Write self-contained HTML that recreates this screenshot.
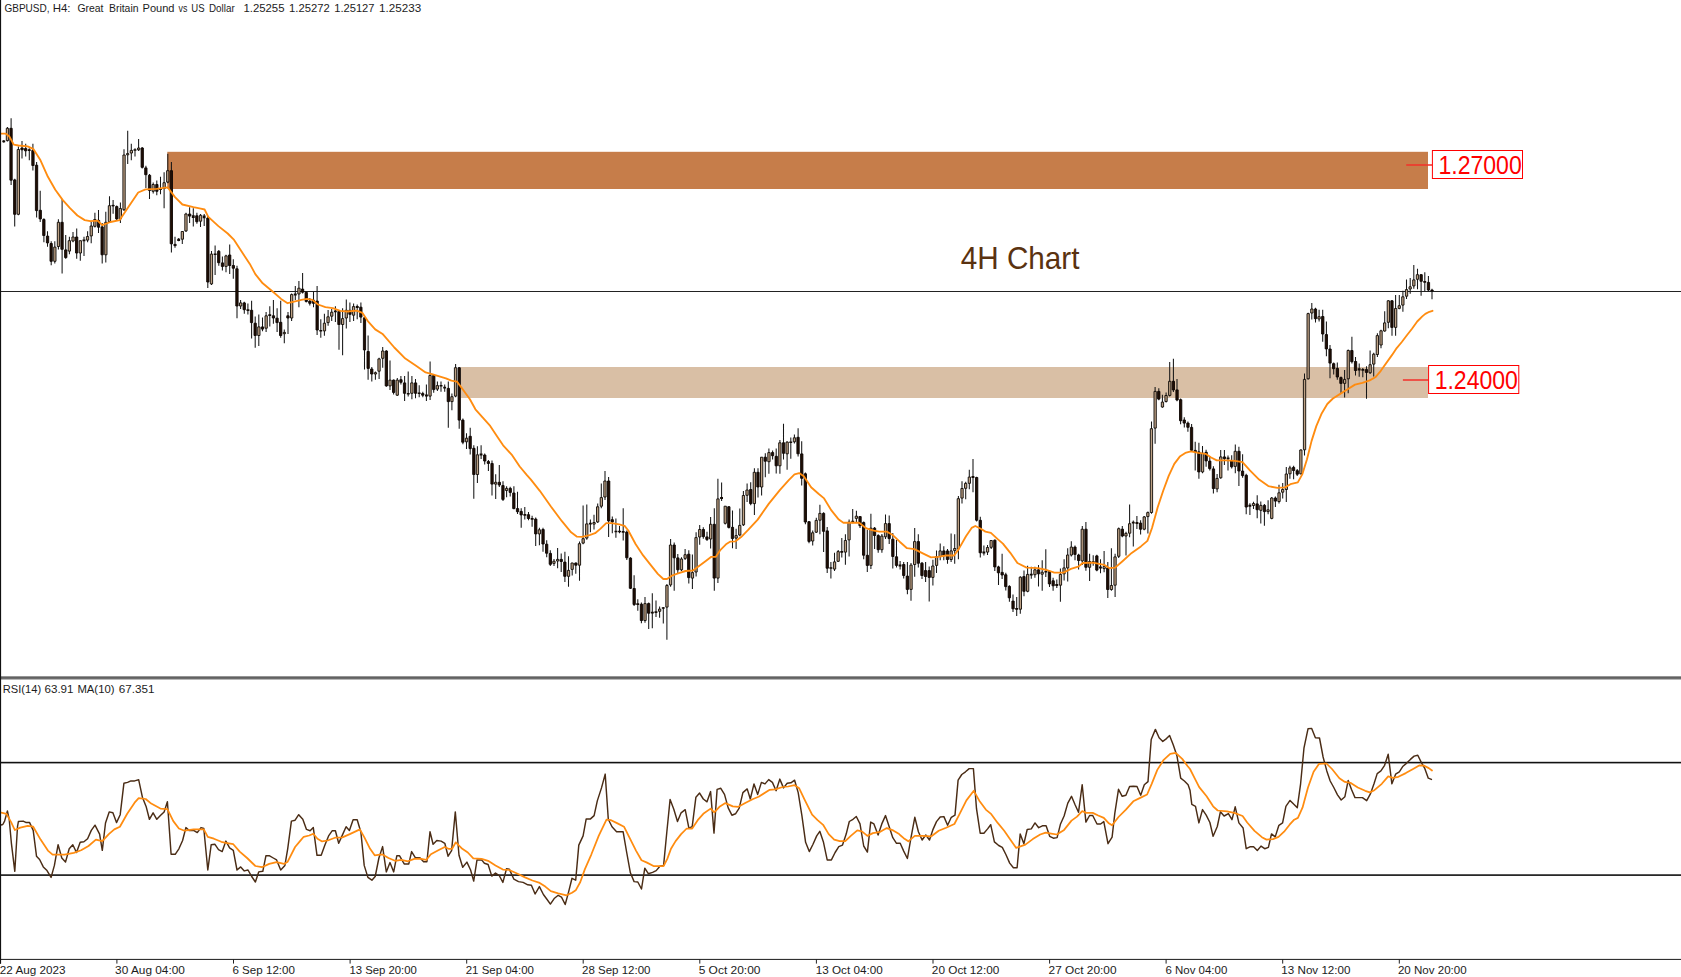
<!DOCTYPE html>
<html lang="en"><head><meta charset="utf-8"><title>GBPUSD H4 Chart</title>
<style>html,body{margin:0;padding:0;background:#fff;overflow:hidden}svg{display:block}text{font-family:"Liberation Sans",Arial,sans-serif}</style></head><body>
<svg width="1681" height="977" viewBox="0 0 1681 977">
<rect width="1681" height="977" fill="#fff"/>
<rect x="167.3" y="151.8" width="1260.7" height="37.2" fill="#c67d4a"/>
<rect x="460.6" y="367" width="967.4" height="31" fill="#d9bfa5"/>
<rect x="0" y="291" width="1681" height="1" fill="#222"/>
<path d="M3.8 140V142.8M7.4 127.1V141.5M11.1 118.3V185.1M14.7 178.7V226.6M18.4 146.4V215.2M22 140.9V158.4M25.7 143.7V156.6M29.3 148.3V160.3M32.9 143.7V170.4M36.6 162.1V217.4M40.2 190.7V222M43.9 218.3V242.2M47.5 231.2V246.8M51.2 241.3V265.3M54.8 241.3V263.4M58.4 219.2V249.6M62.1 198.9V273.6M65.7 234.9V258.8M69.4 236.7V254.2M73 232.1V242.2M76.7 228.4V258.8M80.3 240.4V260.7M84 236.7V256.1M87.6 231.2V242.2M91.2 222V243.2M94.9 212.8V227.5M98.5 210V233M102.2 222.9V263.4M105.8 211.8V262.5M109.5 196.2V222.9M113.1 199.9V213.7M116.7 205.4V220.1M120.4 202.6V222.9M124 149.2V210.9M127.7 130.8V163.9M131.3 143.7V160.3M135 148.3V156.6M138.6 139.1V151.1M142.2 147V168.6M145.9 165.8V187.9M149.5 174.1V198.9M153.2 182.4V193.4M156.8 180.5V195.3M160.5 176.8V194.3M164.1 172.2V208.2M167.8 153.8V183.3M171.4 162.1V252.4M175 236.7V247.8M178.7 238V241.3M182.3 231.2V244.1M186 212.8V232.1M189.6 207.2V222.9M193.3 208.2V226.6M196.9 212.8V223.8M200.5 214.1V227M204.2 214.1V226.1M207.8 216V287.9M211.5 251V285.1M215.1 245.5V275M218.8 250.1V265.8M222.4 256.5V270.4M226 254.7V272.2M229.7 244.5V274.1M233.3 259.3V278.7M237 265.8V318.3M240.6 299.9V309.1M244.3 301.7V313.7M247.9 303.6V314.6M251.6 300.8V338.6M255.2 316.5V347.8M258.8 314.6V346M262.5 317.4V331.2M266.1 311.9V332.1M269.8 306.3V326.6M273.4 299.9V323.8M277.1 308.2V332.1M280.7 300.8V337.7M284.3 329.4V343.2M288 311.9V334M291.6 293.4V321.1M295.3 286V299.9M298.9 281.1V307.2M302.6 273.1V293.4M306.2 291.6V302.6M309.8 298V305.4M313.5 291.6V307.2M317.1 286V334.9M320.8 319.2V337.7M324.4 313.7V335.8M328.1 310V325.7M331.7 309.1V321.1M335.4 306.3V322M339 310V349.7M342.6 308.2V355.2M346.3 299.5V328.5M349.9 302.6V322M353.6 303.6V321.1M357.2 304.5V319.2M360.9 302.6V322.9M364.5 316.2V369.6M368.1 335.5V379.8M371.8 366.9V381.6M375.4 371.5V379.8M379.1 357.7V378.9M382.7 347V367.8M386.4 350.3V386.8M390 360.4V389.9M393.6 379.4V394.5M397.3 377.9V396M400.9 376.1V384.4M404.6 376.1V401M408.2 371.5V396.4M411.9 376.1V399.2M415.5 378.9V398.2M419.2 385.3V397.3M422.8 391.8V397.3M426.4 384.4V401M430.1 361.4V400.1M433.7 374.8V392.7M437.4 381.6V390.9M441 381.6V391.8M444.7 384.4V391.8M448.3 381.6V427.7M451.9 393.6V410.2M455.6 364.1V397.3M459.2 366.9V428.7M462.9 418.5V444.3M466.5 433.3V448.9M470.2 427.7V454.5M473.8 445.3V498.7M477.4 446.2V483.1M481.1 445.3V459.1M484.7 453.6V464.6M488.4 460V471.1M492 460.4V495.4M495.7 474.2V499.1M499.3 465V487.1M503 481.2V501M506.6 486.2V497.3M510.2 486.8V496.4M513.9 486.2V509.3M517.5 491.7V513.9M521.2 508.3V527.7M524.8 507V519.4M528.5 512V520.3M532.1 515.7V526.8M535.7 517.6V546.1M539.4 527.7V545.2M543 527.7V551.7M546.7 540.2V557.2M550.3 550.2V566.1M554 559.1V566.1M557.6 548V568.3M561.2 553.5V572M564.9 551.7V582.1M568.5 556.3V586.7M572.2 562.7V575.6M575.8 562.4V573.8M579.5 541.5V580.8M583.1 505.6V544.3M586.8 504.6V539.7M590.4 519.4V532.3M594 514.8V529.5M597.7 503.4V523.1M601.3 483.4V508.3M605 470.9V500M608.6 477V536.9M612.3 516.6V533.2M615.9 518.5V537.8M619.5 525.9V533.2M623.2 508.3V540.6M626.8 530.5V560M630.5 557.2V588.9M634.1 575.3V606.1M637.8 599.3V610.7M641.4 602.4V623.2M645 596.9V622.7M648.7 602.4V629.1M652.3 593.2V628.2M656 600.5V617.1M659.6 606.6V617.7M663.3 607V623.6M666.9 583.9V639.8M670.6 539.1V586.7M674.2 542.5V590.8M677.8 553.9V572.9M681.5 557.2V571M685.1 548.9V560M688.8 550.2V583.4M692.4 554.4V588.9M696.1 532.3V576.6M699.7 524.9V544.7M703.3 527.3V538.8M707 531.8V541M710.6 517V548.4M714.3 508.3V590.8M717.9 478.8V583M721.6 482.5V501M725.2 505.9V524.4M728.9 505.9V528.6M732.5 510.4V548.2M736.1 528.8V549.1M739.8 508.5V536.2M743.4 491V526M747.1 483.6V502.1M750.7 482.3V505.2M754.4 468.3V515M758 468.3V497.5M761.6 456.9V495.6M765.3 453.2V477.2M768.9 448.6V473.8M772.6 450.4V459.6M776.2 448.6V473.5M779.9 439.9V473.8M783.5 423.7V459.6M787.1 441.2V469.8M790.8 437.5V458.7M794.4 434.4V443.6M798.1 428.3V456.5M801.7 441.2V485.5M805.4 472.6V524.2M809 521.1V543.2M812.7 530.6V545.4M816.3 517.7V532.9M819.9 504.8V534.3M823.6 512.2V551.9M827.2 527V573.1M830.9 562V578.6M834.5 552.8V570.9M838.2 550V562M841.8 538V557.4M845.4 534.3V564.8M849.1 519.6V556.5M852.7 508.9V523.3M856.4 510.7V522.3M860 515.9V527.9M863.7 521.4V559.2M867.3 529.7V572.1M870.9 513.7V569M874.6 527V549.1M878.2 534.3V552.8M881.9 534V552.8M885.5 514.4V538.9M889.2 515.5V543.9M892.8 532.9V568.5M896.5 539.9V567.5M900.1 561.1V569.4M903.7 562V578.6M907.4 562V594.3M911 562.9V600.7M914.7 527.9V576.8M918.3 534.3V567.5M922 562V579M925.6 562V581.9M929.2 566.6V601.6M932.9 559.8V585.6M936.5 550.6V573.1M940.2 543.6V560.2M943.8 546.3V560.2M947.5 549.1V563.8M951.1 533.4V562M954.7 534.3V563.8M958.4 496V559.2M962 481.2V503.4M965.7 481.8V499.3M969.3 469.8V489.2M973 459.1V492.3M976.6 476.8V521.4M980.3 516.8V557.4M983.9 545.4V555.5M987.5 545V555M991.2 539.9V549.1M994.8 539.5V570.9M998.5 565.7V585M1002.1 553.7V579M1005.8 572.7V590.6M1009.4 585.2V601.8M1013 594.4V611.9M1016.7 597.1V616.1M1020.3 576.3V613.7M1024 570.4V596.2M1027.6 565.8V592.2M1031.3 566.7V578.7M1034.9 566.7V577.8M1038.5 564.9V586.6M1042.2 560.3V590.7M1045.8 549.2V576.9M1049.5 570.4V587M1053.1 577.8V590.7M1056.8 579.6V587.9M1060.4 568.6V601.8M1064.1 559.3V580.5M1067.7 548.3V581.5M1071.3 541.3V556.6M1075 545.5V560.3M1078.6 553.8V569.5M1082.3 526.1V564.9M1085.9 522.1V570.8M1089.6 553.8V581.1M1093.2 555.3V565.8M1096.8 554.7V571.3M1100.5 559.3V573.2M1104.1 551V572.2M1107.8 562.1V598.1M1111.4 548.3V590.7M1115.1 553.8V597.1M1118.7 527.6V557.9M1122.3 526.1V537.2M1126 531.7V555.6M1129.6 504.4V537.2M1133.3 520.6V546.4M1136.9 516V528.9M1140.6 520.2V534.4M1144.2 516V530.2M1147.9 511.4V533.5M1151.5 421.5V513.7M1155.1 387V443.7M1158.8 388.3V400.3M1162.4 394.8V407.7M1166.1 392.6V402.5M1169.7 362V396.6M1173.4 358.8V392M1177 379.1V401.2M1180.6 398.5V424.3M1184.3 417.3V427.6M1187.9 421.5V431.7M1191.6 423.9V451M1195.2 441.8V470.4M1198.9 442.7V478.7M1202.5 446.1V473.2M1206.1 449.7V466.7M1209.8 456.6V470.4M1213.4 466.3V493.5M1217.1 474.1V492.2M1220.7 450.1V478.7M1224.4 450.1V464.9M1228 455.6V470.4M1231.7 455.3V468.6M1235.3 444.6V473.2M1238.9 446.8V486.1M1242.6 454.2V477.8M1246.2 473.7V514.3M1249.9 503.2V515M1253.5 501.8V509.1M1257.2 495.3V518.3M1260.8 501.4V523.5M1264.4 504V525.7M1268.1 500.3V514.3M1271.7 497.1V519.3M1275.4 496.6V506.9M1279 484.8V503.6M1282.7 482.9V498.4M1286.3 467.1V502.1M1289.9 465.8V478.7M1293.6 465.8V479.3M1297.2 468.9V475.9M1300.9 449.2V474.5M1304.5 373.6V455.6M1308.2 312.8V379.5M1311.8 303.1V319.5M1315.5 307.7V322.6M1319.1 309.8V321.5M1322.7 309.8V341.8M1326.4 321.5V356.3M1330 345V378.2M1333.7 362.5V374.5M1337.3 362.5V379.7M1341 376.4V392.9M1344.6 369.9V397.6M1348.2 349.6V393.3M1351.9 336.7V363.4M1355.5 357V375.4M1359.2 363.4V376.7M1362.8 368.1V377.3M1366.5 366.2V398.8M1370.1 350.5V374.1M1373.7 352.7V376.4M1377.4 333.3V356.9M1381 329.7V348.3M1384.7 311.3V331.8M1388.3 300V328.2M1392 300V335.7M1395.6 295.1V335.7M1399.3 295.1V309.2M1402.9 290.8V311.8M1406.5 279.6V299M1410.2 278V293.7M1413.8 265V288.8M1417.5 268.8V289.3M1421.1 273.9V295.7M1424.8 272.2V291.3M1428.4 276V291.3M1432 288.8V299.2" stroke="#161616" stroke-width="1.05" fill="none"/>
<path d="M6.3 128.3H8.6V140.6H6.3ZM17.2 149.5H19.5V214.3H17.2ZM53.7 247.1H56V261.3H53.7ZM57.3 222.3H59.6V246.5H57.3ZM68.2 240.7H70.5V251.1H68.2ZM71.9 237H74.2V241H71.9ZM79.2 240.7H81.5V253H79.2ZM86.4 236.5H88.7V240.1H86.4ZM90.1 226H92.4V235.9H90.1ZM93.7 219.5H96V226.3H93.7ZM104.7 222.3H107V254.8H104.7ZM108.3 205.7H110.6V221.7H108.3ZM119.2 208.5H121.5V218.9H119.2ZM122.9 155H125.2V209.7H122.9ZM126.5 153.6H128.8V154.8H126.5ZM130.2 150.4H132.5V153H130.2ZM137.5 148H139.8V149.8H137.5ZM152 184.5H154.3V191.3H152ZM163 182.7H165.3V188.5H163ZM166.6 170.7H168.9V182.1H166.6ZM181.2 231.5H183.5V239.2H181.2ZM184.8 214H187.1V230.9H184.8ZM199.4 215.3H201.7V221.2H199.4ZM210.3 254.1H212.6V283.9H210.3ZM224.9 255.9H227.2V266.4H224.9ZM239.5 302.9H241.8V306H239.5ZM257.7 326.9H260V335.5H257.7ZM265 315.8H267.3V328.2H265ZM283.2 332.4H285.5V333.7H283.2ZM290.5 294.6H292.8V318H290.5ZM297.8 288.2H300.1V294H297.8ZM323.3 323.2H325.6V330.9H323.3ZM326.9 316.8H329.2V322.6H326.9ZM330.6 312.2H332.9V316.2H330.6ZM341.5 318.6H343.8V324.5H341.5ZM345.1 310.3H347.4V318H345.1ZM352.4 306.6H354.7V315.2H352.4ZM374.3 372.7H376.6V374H374.3ZM377.9 358.9H380.2V371.2H377.9ZM381.6 351H383.9V358.3H381.6ZM388.9 380.1H391.2V385.9H388.9ZM396.1 380.1H398.4V395.2H396.1ZM410.7 382.9H413V393.3H410.7ZM428.9 375.5H431.2V396.1H428.9ZM436.2 385.6H438.5V389.1H436.2ZM450.8 396.7H453.1V401.6H450.8ZM454.4 367.7H456.7V396.1H454.4ZM465.4 438.2H467.7V441.8H465.4ZM476.3 454.8H478.6V474.5H476.3ZM494.5 482.3H496.8V484.1H494.5ZM505.4 488.4H507.7V490.5H505.4ZM538.2 529.8H540.5V533.9H538.2ZM552.8 561.2H555.1V563.4H552.8ZM556.5 559.4H558.8V561H556.5ZM567.4 570.4H569.7V576.3H567.4ZM571 563H573.3V569.4H571ZM578.3 543.7H580.6V565.2H578.3ZM582 538.7H584.3V543.1H582ZM585.6 523.9H587.9V538.1H585.6ZM592.9 522.5H595.2V524.1H592.9ZM596.5 506.8H598.8V521.9H596.5ZM600.2 497.6H602.5V506.2H600.2ZM603.8 481H606.1V497H603.8ZM643.9 603.6H646.2V620.5H643.9ZM658.5 609.1H660.8V611.3H658.5ZM665.8 585.5H668.1V607.1H665.8ZM669.4 545H671.7V584.9H669.4ZM680.3 559H682.6V569.8H680.3ZM684 554.7H686.3V558.4H684ZM691.3 572.6H693.6V578.1H691.3ZM694.9 537.6H697.2V572H694.9ZM698.6 529.5H700.9V537H698.6ZM709.5 524.3H711.8V539H709.5ZM716.8 498.9H719.1V578.1H716.8ZM724.1 506.2H726.4V523.3H724.1ZM735 535.6H737.3V538.1H735ZM738.6 525.4H740.9V535H738.6ZM742.3 495.5H744.6V524.8H742.3ZM745.9 490H748.2V495.3H745.9ZM753.2 472.3H755.5V503.6H753.2ZM760.5 457.2H762.8V487H760.5ZM767.8 452.6H770.1V461.7H767.8ZM778.7 442.8H781V465.8H778.7ZM786 442.1H788.3V453.8H786ZM793.3 437.8H795.6V441.8H793.3ZM811.5 532.8H813.8V541H811.5ZM815.1 520.4H817.4V532.2H815.1ZM818.8 513.4H821.1V520.2H818.8ZM833.4 561.9H835.7V569.1H833.4ZM837 551.6H839.3V561.3H837ZM844.3 540.5H846.6V552.1H844.3ZM847.9 522.1H850.2V539.9H847.9ZM855.2 516.2H857.5V518.4H855.2ZM869.8 528.2H872.1V565.4H869.8ZM880.7 536.1H883V549.7H880.7ZM884.4 523.6H886.7V536.8H884.4ZM909.9 565.1H912.2V589.4H909.9ZM913.5 541.6H915.8V564.5H913.5ZM931.7 566H934V577.4H931.7ZM935.4 556.8H937.7V565.4H935.4ZM939 550.9H941.3V556.5H939ZM950 550.9H952.3V559.5H950ZM953.6 548.5H955.9V550.6H953.6ZM957.2 498.7H959.5V548.8H957.2ZM960.9 488.5H963.2V498.1H960.9ZM964.5 483.4H966.8V488.3H964.5ZM968.2 477.1H970.5V483.3H968.2ZM986.4 547.5H988.7V552.1H986.4ZM990 540.5H992.3V547.3H990ZM1019.2 577.2H1021.5V609.2H1019.2ZM1026.5 574.4H1028.8V591.3H1026.5ZM1033.8 569.8H1036.1V574.7H1033.8ZM1041 572.2H1043.3V574.2H1041ZM1059.3 574.4H1061.6V585.2H1059.3ZM1062.9 567.9H1065.2V573.8H1062.9ZM1066.5 555H1068.8V567.9H1066.5ZM1070.2 547.1H1072.5V555H1070.2ZM1081.1 529.2H1083.4V560.9H1081.1ZM1088.4 561.5H1090.7V567.3H1088.4ZM1103 566.6H1105.3V568.6H1103ZM1110.3 585.5H1112.6V589.5H1110.3ZM1113.9 556.9H1116.2V585.2H1113.9ZM1117.6 528.7H1119.9V556.3H1117.6ZM1124.8 533.4H1127.1V536H1124.8ZM1128.5 523.7H1130.8V533.2H1128.5ZM1143.1 516.9H1145.4V529.2H1143.1ZM1146.7 512.6H1149V516.6H1146.7ZM1150.3 428.7H1152.6V512.5H1150.3ZM1154 391.4H1156.3V428.1H1154ZM1161.3 402.1H1163.6V407H1161.3ZM1164.9 395.5H1167.2V401.5H1164.9ZM1168.6 381.3H1170.9V395.4H1168.6ZM1201.4 453.2H1203.7V471.9H1201.4ZM1215.9 478.4H1218.2V488.9H1215.9ZM1219.6 456.9H1221.9V477.8H1219.6ZM1234.1 451.3H1236.4V466.4H1234.1ZM1252.4 503.5H1254.7V505.5H1252.4ZM1259.7 505.4H1262V510.3H1259.7ZM1266.9 509.8H1269.2V511.6H1266.9ZM1270.6 498H1272.9V518.4H1270.6ZM1277.9 492.8H1280.2V501.5H1277.9ZM1281.5 489.5H1283.8V492.2H1281.5ZM1285.2 474H1287.5V489.5H1285.2ZM1288.8 467.9H1291.1V473.8H1288.8ZM1299.7 450H1302V473.8H1299.7ZM1303.4 379.4H1305.7V449.8H1303.4ZM1307 313.6H1309.3V378.8H1307ZM1310.7 309H1313V313H1310.7ZM1317.9 316.7H1320.2V319H1317.9ZM1343.5 379.4H1345.8V383.4H1343.5ZM1347.1 350.5H1349.4V378.8H1347.1ZM1369 364.7H1371.3V372.7H1369ZM1372.6 354.2H1374.9V364.1H1372.6ZM1376.2 335.6H1378.5V354.5H1376.2ZM1379.9 330.8H1382.2V345H1379.9ZM1383.5 322.9H1385.8V331H1383.5ZM1387.2 300.8H1389.5V322.3H1387.2ZM1394.5 308.5H1396.8V327.4H1394.5ZM1398.1 305.7H1400.4V308.4H1398.1ZM1401.7 296.8H1404V305.1H1401.7ZM1405.4 289.6H1407.7V296.2H1405.4ZM1409 286.8H1411.3V289H1409ZM1412.7 279.9H1415V285.9H1412.7ZM1416.3 274.7H1418.6V279.3H1416.3Z" fill="#bda185" stroke="#0f0a06" stroke-width="0.9"/>
<path d="M9.9 128.3H12.2V180.2H9.9ZM13.6 179.9H15.9V214.3H13.6ZM20.9 148H23.2V149.8H20.9ZM24.5 148.6H26.8V150.8H24.5ZM31.8 150.4H34.1V165.5H31.8ZM35.4 165.2H37.7V210.6H35.4ZM39.1 210.3H41.4V218.9H39.1ZM42.7 219.5H45V235.5H42.7ZM46.4 236.1H48.7V242.9H46.4ZM50 243.5H52.3V261.3H50ZM60.9 222.3H63.2V249.3H60.9ZM64.6 249.9H66.9V257.6H64.6ZM75.5 237H77.8V253H75.5ZM97.4 220.4H99.7V227.2H97.4ZM101 226.9H103.3V254.8H101ZM111.9 205.3H114.2V206H111.9ZM115.6 206.6H117.9V218.9H115.6ZM141.1 148H143.4V167.3H141.1ZM144.7 167.9H147V174.7H144.7ZM148.4 175.3H150.7V190.4H148.4ZM155.7 184.5H158V191.3H155.7ZM170.2 170.7H172.5V243.8H170.2ZM173.9 244.4H176.2V245.6H173.9ZM188.5 214H190.8V216.1H188.5ZM195.7 215.8H198V221.7H195.7ZM206.7 218.1H209V282H206.7ZM217.6 251.3H219.9V262.7H217.6ZM221.3 262.9H223.6V266.4H221.3ZM228.5 255H230.8V265.5H228.5ZM232.2 265.5H234.5V268.2H232.2ZM235.8 268.8H238.1V306H235.8ZM243.1 302.9H245.4V309.7H243.1ZM250.4 310.3H252.7V322.6H250.4ZM254 323.2H256.3V335.5H254ZM261.3 326.9H263.6V329.1H261.3ZM272.3 315.8H274.6V318H272.3ZM275.9 318.2H278.2V322.6H275.9ZM279.5 322.3H281.8V335.5H279.5ZM286.8 315.8H289.1V318H286.8ZM301.4 289.1H303.7V292.2H301.4ZM305.1 292.4H307.4V301.4H305.1ZM308.7 301.1H311V303.3H308.7ZM312.3 300.2H314.6V303.3H312.3ZM316 301.1H318.3V330H316ZM337.8 311.6H340.1V324.5H337.8ZM348.8 310.3H351.1V314.3H348.8ZM359.7 307.2H362V317.1H359.7ZM363.4 317.8H365.6V350H363.4ZM367 351.5H369.3V368.4H367ZM370.6 369H372.9V374H370.6ZM385.2 351H387.5V385.9H385.2ZM392.5 380.1H394.8V392.4H392.5ZM399.8 379.7H402.1V382.3H399.8ZM403.4 382.9H405.7V393.3H403.4ZM414.4 382.9H416.7V393.3H414.4ZM421.6 393.6H423.9V395.2H421.6ZM432.6 375.5H434.9V389.6H432.6ZM447.2 388.4H449.5V401.6H447.2ZM458.1 367.7H460.4V420.1H458.1ZM461.7 420.1H464V442.2H461.7ZM469 436.3H471.3V448.6H469ZM472.7 448.3H475V474.5H472.7ZM483.6 455H485.9V461H483.6ZM487.2 461.6H489.5V463.4H487.2ZM490.9 463.5H493.2V484.1H490.9ZM498.2 482.3H500.5V485H498.2ZM501.8 485.6H504.1V499.4H501.8ZM509.1 488.4H511.4V492.4H509.1ZM512.7 493H515V508.6H512.7ZM516.4 508.6H518.7V511.7H516.4ZM520 511.4H522.3V514.9H520ZM527.3 514.7H529.6V518.5H527.3ZM534.6 519.1H536.9V533.9H534.6ZM541.9 529.5H544.2V544H541.9ZM545.5 544.2H547.8V553.2H545.5ZM549.2 553.4H551.5V564.3H549.2ZM560.1 559.4H562.4V561.5H560.1ZM563.7 562.1H566V576.3H563.7ZM574.7 563H577V565.2H574.7ZM607.5 481H609.8V520.9H607.5ZM611.1 519.7H613.4V521.9H611.1ZM625.7 532.1H628V557.8H625.7ZM629.3 558.1H631.6V588.3H629.3ZM633 588.5H635.3V604.5H633ZM640.3 604.2H642.6V620.5H640.3ZM647.5 603.6H649.8V613.2H647.5ZM673 545H675.3V557.8H673ZM676.7 557.9H679V569.8H676.7ZM687.6 554.2H689.9V577.6H687.6ZM702.2 529.5H704.5V536.6H702.2ZM705.8 536.9H708.1V539.4H705.8ZM713.1 524.3H715.4V578.1H713.1ZM727.7 506.8H730V527.4H727.7ZM731.3 527.3H733.6V538.6H731.3ZM749.6 489.5H751.9V503.6H749.6ZM756.8 472.3H759.1V487H756.8ZM764.1 457.2H766.4V461.2H764.1ZM771.4 452.6H773.7V455.7H771.4ZM775.1 456.3H777.4V465.8H775.1ZM782.4 442.8H784.7V453.3H782.4ZM796.9 437.3H799.2V453.8H796.9ZM800.6 453.9H802.9V478.3H800.6ZM804.2 473.8H806.5V522H804.2ZM807.9 521.7H810.2V541.4H807.9ZM822.4 513.4H824.7V531.3H822.4ZM826.1 530.9H828.4V568.2H826.1ZM858.9 516.6H861.2V525.7H858.9ZM862.5 522.6H864.8V555.2H862.5ZM866.2 555.3H868.5V565.4H866.2ZM873.4 528.2H875.7V535.5H873.4ZM877.1 535.6H879.4V549.7H877.1ZM888 523.6H890.3V538.6H888ZM891.7 539.2H894V556.5H891.7ZM895.3 556.8H897.6V565.4H895.3ZM902.6 564.5H904.9V575.5H902.6ZM906.2 576.1H908.5V589.4H906.2ZM917.2 541.6H919.5V563.2H917.2ZM920.8 563.2H923.1V575.5H920.8ZM924.4 570.6H926.7V576.5H924.4ZM928.1 570.6H930.4V577.4H928.1ZM942.7 550.9H945V555.2H942.7ZM946.3 550.9H948.6V559.5H946.3ZM975.5 477.5H977.8V520.2H975.5ZM979.1 520.3H981.4V552.8H979.1ZM993.7 540.2H996V566.9H993.7ZM997.3 566.9H999.6V572.8H997.3ZM1001 572.4H1003.3V575H1001ZM1004.6 574.8H1006.9V586.6H1004.6ZM1008.2 586.4H1010.5V597.8H1008.2ZM1011.9 601.1H1014.2V608.8H1011.9ZM1022.8 576.6H1025.1V591.3H1022.8ZM1037.4 569.8H1039.7V573.8H1037.4ZM1048.3 571.6H1050.6V583.9H1048.3ZM1052 580.8H1054.3V585.8H1052ZM1073.8 547.1H1076.1V554.4H1073.8ZM1077.5 555H1079.8V560.5H1077.5ZM1084.8 529.2H1087.1V567.3H1084.8ZM1095.7 555.9H1098V570.1H1095.7ZM1106.6 567.9H1108.9V589.5H1106.6ZM1121.2 529.2H1123.5V536H1121.2ZM1139.4 523.1H1141.7V529.2H1139.4ZM1157.6 391.4H1159.9V399.1H1157.6ZM1172.2 381.3H1174.5V389.9H1172.2ZM1175.9 389.9H1178.2V400H1175.9ZM1179.5 399.7H1181.8V420.7H1179.5ZM1183.1 420H1185.4V423.1H1183.1ZM1186.8 423.1H1189.1V427.3H1186.8ZM1190.4 427.4H1192.7V450.2H1190.4ZM1194.1 450.4H1196.4V452H1194.1ZM1197.7 451.9H1200V471.9H1197.7ZM1205 452.3H1207.3V460.9H1205ZM1208.6 461.1H1210.9V468.6H1208.6ZM1212.3 468.9H1214.6V488.5H1212.3ZM1223.2 456.9H1225.5V458.7H1223.2ZM1230.5 461.1H1232.8V466.8H1230.5ZM1237.8 451.3H1240.1V471H1237.8ZM1241.4 471.1H1243.7V475.6H1241.4ZM1245.1 475.3H1247.4V507H1245.1ZM1256 503.9H1258.3V509.7H1256ZM1263.3 505.4H1265.6V511.6H1263.3ZM1274.2 498H1276.5V501.1H1274.2ZM1292.4 467.4H1294.7V470.5H1292.4ZM1296.1 470.7H1298.4V474.2H1296.1ZM1314.3 309H1316.6V318.7H1314.3ZM1321.6 316.5H1323.9V334H1321.6ZM1325.2 334.6H1327.5V348.9H1325.2ZM1328.9 349H1331.2V363.1H1328.9ZM1332.5 363.7H1334.8V368.7H1332.5ZM1336.2 368.4H1338.5V377H1336.2ZM1339.8 377.6H1342.1V383.4H1339.8ZM1350.7 350.5H1353V361.7H1350.7ZM1354.4 361.5H1356.7V370.5H1354.4ZM1365.3 369.6H1367.6V372.4H1365.3ZM1390.8 300.8H1393.1V327.4H1390.8ZM1420 274.7H1422.3V281.3H1420ZM1427.3 282.4H1429.6V290H1427.3ZM1430.9 290.1H1433.2V291H1430.9Z" fill="#200e04" stroke="#0c0603" stroke-width="0.9"/>
<path d="M2.3 140.6H5.2V142.2H2.3ZM27.8 149.3H30.7V150.9H27.8ZM82.5 239.6H85.4V241.2H82.5ZM133.5 149.2H136.4V150.8H133.5ZM159 188.5H161.9V190.1H159ZM177.2 238.8H180.1V240.9H177.2ZM191.8 215.2H194.7V218.1H191.8ZM202.7 215.6H205.6V218.2H202.7ZM213.7 253.4H216.6V255H213.7ZM246.5 309.3H249.4V310.9H246.5ZM268.3 314.3H271.2V315.9H268.3ZM293.8 293.6H296.7V295.4H293.8ZM319.3 329.9H322.2V331.6H319.3ZM333.9 310.6H336.8V312.2H333.9ZM355.8 306H358.7V308H355.8ZM406.8 392.9H409.7V394.5H406.8ZM417.7 392.4H420.6V394H417.7ZM425 394.6H427.9V396.4H425ZM439.6 385H442.5V386.6H439.6ZM443.2 386.8H446.1V388.6H443.2ZM479.6 453.6H482.5V455.4H479.6ZM523.4 514.1H526.3V515.7H523.4ZM530.7 518.1H533.6V519.8H530.7ZM588.9 522.7H591.8V524.4H588.9ZM614.5 530.7H617.4V532.3H614.5ZM618.1 530.7H621V532.3H618.1ZM621.7 531H624.6V532.7H621.7ZM636.3 603.3H639.2V605H636.3ZM650.9 611.8H653.8V613.4H650.9ZM654.5 611.3H657.4V612.9H654.5ZM661.8 607.2H664.7V608.8H661.8ZM720.1 496.9H723V498.9H720.1ZM789.3 441.4H792.2V443H789.3ZM829.4 567.2H832.3V568.8H829.4ZM840.3 551H843.2V552.8H840.3ZM851.3 520.7H854.2V522.3H851.3ZM898.6 564.4H901.5V566.4H898.6ZM971.5 476.1H974.4V477.9H971.5ZM982.4 551.5H985.3V553.5H982.4ZM1015.2 607.9H1018.1V609.8H1015.2ZM1029.8 573.7H1032.7V575.5H1029.8ZM1044.4 571H1047.3V572.6H1044.4ZM1055.3 583.9H1058.2V585.9H1055.3ZM1091.8 561.2H1094.7V563H1091.8ZM1099 566.4H1101.9V568.5H1099ZM1131.8 521.7H1134.7V523.5H1131.8ZM1135.5 522.1H1138.4V523.9H1135.5ZM1226.6 457.5H1229.5V459.3H1226.6ZM1248.4 504.7H1251.3V506.7H1248.4ZM1357.7 368.3H1360.6V370.4H1357.7ZM1361.4 369H1364.3V370.8H1361.4ZM1423.3 281.1H1426.2V282.8H1423.3Z" fill="#120a05"/>
<polyline points="0,133.6 5.5,133.6 9.2,136.3 13.8,144.6 18.4,145.5 27.6,146.4 33.2,148.8 40.5,160.3 47.9,176.8 55.3,189.7 62.6,199.9 70,208.2 77.4,215.5 84.7,220.1 90.3,221.1 97.6,220.7 102.2,225.1 110.5,222 119.7,220.1 128.9,206.3 138.2,192.5 145.5,189.4 156.6,188.8 167.6,187.3 175,197.1 182.4,204.5 193.4,207.2 200.8,208.7 204.6,209.5 208.3,216.9 218.4,226.1 227.7,233.5 234.1,239.9 242.4,252.8 249.8,263.9 255.3,274.1 262.7,283.3 273.8,292.5 281.1,298.9 287.6,303.2 294.1,301.7 301.4,299.9 307,298.9 312.5,299.9 318,304.5 325.4,307.2 332.8,308.2 340.2,310.9 347.5,311.5 356.8,310.6 362.3,312.8 367.8,321.1 375.2,329.4 382.6,334 383.2,334.6 394.3,347.5 405.3,358.6 416.4,366 425.6,372.4 431.1,373.9 438.5,376.1 445.9,378.3 451.4,380.7 457,381.6 462.5,389 469.9,399.2 475.4,409.3 482.8,417.6 490.2,425.9 497.5,437 503.1,445.3 512.3,455.4 519.7,466.5 526.9,475.1 530.7,479.4 539.8,490.8 550.9,506.5 561.9,521.2 571.1,532.3 576.7,536.6 582.2,536.9 589.6,535.1 595.1,533.2 600.6,528.6 606.2,523.1 611.7,523.1 619.1,524.4 624.6,525.9 628.3,530.5 635.7,544.3 643.1,555.4 650.4,564.6 657.8,573.8 663.3,579 667,579 672.6,575.3 678.1,573.4 685.5,571 692.9,570.5 698.4,566.4 705.8,560.9 711.3,556.8 715.9,556.8 720.5,549.8 726,544.3 730,541.7 735.5,541.3 741.1,537.1 748.4,529.7 757.7,519.6 768.7,503.9 779.8,490.1 789,479.9 794.5,474.4 799.2,473.1 803.8,476.2 811.1,487.3 818.5,493.8 824.1,498.4 831.4,510.4 838.8,519.6 843.4,522.7 849.9,522.7 859.1,522.7 866.5,528.4 873.8,530.6 879.4,531.6 886.8,531.6 892.3,534.7 899.7,541.7 907,548.2 914.4,549.1 921.8,552.8 931,557.4 938.4,556.8 945.8,555.5 954.1,555.5 958.7,549.1 966,536.2 971.6,527.9 975.3,526 980.8,528.8 985.4,531.6 990.9,532.9 997.4,538.9 1002.9,543.6 1010.3,552.8 1017.4,563 1026.6,567.6 1037.7,568.2 1046.9,570 1054.3,572.6 1063.5,572.6 1070.9,568.9 1078.2,566.7 1082.8,563 1093,562.7 1104.1,564.9 1109.6,568.2 1115.1,567.6 1122.5,561.2 1131.7,552.9 1140.9,546.4 1147.4,540.9 1152,528 1157.7,507.3 1163.2,490.7 1168.7,475.9 1174.3,463.9 1179.8,456.6 1185.3,452.9 1190.9,451.4 1198.2,452.9 1205.6,453.8 1211.1,457.5 1216.7,460.3 1225.9,460.3 1235.1,460.8 1242.5,462.1 1249.9,470.4 1259.1,479.6 1268.3,486.1 1277.5,487.9 1284.9,487.4 1290.4,484.2 1297.8,482.4 1302.4,474.1 1307,459.3 1311.6,440.9 1316.3,426.1 1321.8,413.2 1327.3,404 1332.9,398.5 1340.2,393.9 1347.6,389.3 1355,384.6 1362.4,382.8 1369.7,380.4 1375.3,377.3 1380.8,370.8 1392.1,354.9 1396.7,348.1 1401.8,342 1406.9,335.3 1412,328.7 1417.2,321.5 1422.3,316.4 1425.3,313.9 1429.4,311.8 1432.5,310.8" fill="none" stroke="#ff8c10" stroke-width="1.85" stroke-linejoin="round" stroke-linecap="round"/>
<text x="960.68" y="268.6" font-size="30.9" fill="#5a3210" textLength="118.82" lengthAdjust="spacingAndGlyphs">4H Chart</text>
<path d="M1406.2 165H1432M1402.9 380H1428.3" stroke="#f3312a" stroke-width="1.3"/>
<rect x="1432.4" y="150.5" width="90.1" height="28" fill="#fff" stroke="#f00" stroke-width="1"/>
<rect x="1428.6" y="365.5" width="90.2" height="28" fill="#fff" stroke="#f00" stroke-width="1"/>
<text x="1438.41" y="173.7" font-size="25.2" fill="#f00" textLength="83.33" lengthAdjust="spacingAndGlyphs">1.27000</text>
<text x="1434.65" y="388.7" font-size="25.2" fill="#f00" textLength="83.3" lengthAdjust="spacingAndGlyphs">1.24000</text>
<text y="11.8" font-size="10.4" fill="#1c1c1c"><tspan x="4.5" textLength="45.03" lengthAdjust="spacingAndGlyphs">GBPUSD,</tspan> <tspan x="52.72" textLength="17.84" lengthAdjust="spacingAndGlyphs">H4:</tspan> <tspan x="77.47" textLength="26.05" lengthAdjust="spacingAndGlyphs">Great</tspan> <tspan x="108.99" textLength="29.52" lengthAdjust="spacingAndGlyphs">Britain</tspan> <tspan x="142.5" textLength="32.01" lengthAdjust="spacingAndGlyphs">Pound</tspan> <tspan x="178.58" textLength="8.83" lengthAdjust="spacingAndGlyphs">vs</tspan> <tspan x="191.34" textLength="13.28" lengthAdjust="spacingAndGlyphs">US</tspan> <tspan x="209.0" textLength="25.71" lengthAdjust="spacingAndGlyphs">Dollar</tspan> <tspan x="243.42" textLength="41.09" lengthAdjust="spacingAndGlyphs">1.25255</tspan> <tspan x="289.06" textLength="40.68" lengthAdjust="spacingAndGlyphs">1.25272</tspan> <tspan x="334.2" textLength="40.34" lengthAdjust="spacingAndGlyphs">1.25127</tspan> <tspan x="379.02" textLength="42.12" lengthAdjust="spacingAndGlyphs">1.25233</tspan></text>
<rect x="0" y="676.1" width="1681" height="3.5" fill="#8a8a8a"/>
<rect x="0" y="677.1" width="1681" height="1.5" fill="#5c5c5c"/>
<text y="693" font-size="10.4" fill="#1c1c1c"><tspan x="2.72" textLength="38.38" lengthAdjust="spacingAndGlyphs">RSI(14)</tspan> <tspan x="44.5" textLength="29.01" lengthAdjust="spacingAndGlyphs">63.91</tspan> <tspan x="77.4" textLength="37.11" lengthAdjust="spacingAndGlyphs">MA(10)</tspan> <tspan x="118.86" textLength="35.68" lengthAdjust="spacingAndGlyphs">67.351</tspan></text>
<rect x="0" y="761.8" width="1681" height="1.6" fill="#111"/>
<rect x="0" y="874.3" width="1681" height="1.6" fill="#111"/>
<polyline points="0,825.2 2.8,824.5 4.6,821.1 7.4,811 9.2,819.3 11.4,843.3 14.8,871.3 17.5,826.7 18.4,821.5 23.1,821.1 25.8,822.4 29.5,822.4 33.2,830.4 36.5,856.2 39.6,859.5 43.3,866.9 47,870.6 51.1,877.4 54.4,865.4 58.1,844.7 61.8,858 65.5,862.1 69.2,848.8 72.8,844.7 76.5,852.5 80.2,842.3 83.9,841.8 87.6,838.7 91.3,830.4 95,825.2 99.6,834.1 102.3,850.3 105.5,823 109.2,811.9 112.9,812.8 116.5,822.6 120.2,814.7 123.9,783.3 127.6,782.4 130.9,780.9 134.6,780.9 138.7,779.8 142.4,797.2 146.1,806.4 149.4,819.3 153.1,812.8 156.8,819.3 160.4,815.6 164.1,811.9 167.4,801.8 171.1,854.3 175.2,854.3 178.9,848.8 182.6,840.5 185.9,827.6 189,830.4 193.6,830.4 197.3,832.6 201,827.6 203.8,828.5 207.8,870 211.2,844.7 214.8,844.2 218.5,849.7 222.2,851.6 225.9,841.1 229.6,847.9 233.3,850.3 237,870 240.7,866.9 244.3,870.9 248,870 251.7,876.5 255.4,882 258.7,871.9 262.8,871.3 265.9,855.8 269.6,855.8 273.3,858 276.6,859.9 280.7,870 284.9,865.4 287.7,848.8 291.4,821.1 295.1,820.2 298.7,814.7 302.8,819.3 306.5,829.4 310.1,830.7 313.3,827.6 317,855.3 321.2,855.3 324.9,845.1 328.6,835.9 332.3,830.7 335.4,830.7 338.7,843.3 342.8,834.1 346.1,826.7 349.4,830.4 353.1,819.7 357.2,819.7 360.9,832.2 364.2,865.4 367.9,877.4 371.9,880.2 375.2,876.5 378.9,858 382.6,846.6 386.3,871.9 390,862.6 393.7,871.9 396.8,855.8 399.6,855.8 404.2,863.9 408.8,863.9 411.6,851.6 415.3,857.7 419.9,857.7 423.6,861.7 426.9,861.7 430,831.8 433.1,844.2 436.8,840.5 441.1,841.1 444.8,843.3 448.1,856.2 451.6,850.6 455.3,811.9 459,855.3 462.7,867.2 466.9,862.1 470.6,870 473.7,881.1 477,859.9 481.6,859.9 484.4,863.2 488.1,864.5 491.8,876.1 495.5,873.1 499.2,875.5 502.9,882.4 506.5,868.7 509.3,869.1 513.9,879.2 518.5,881.6 523.1,882.4 527.8,884.8 531.4,885.3 535.1,894 539.4,886.6 543.4,894.5 547.1,899.5 550.4,904.1 554.5,898.2 558.2,895.3 561.5,897.1 565.2,904.5 568.3,893.1 572,878.3 575.7,880.2 578.8,845.1 583.1,835.9 586.2,818.9 590.5,818.9 594.1,815.6 597.3,800.9 601.5,787.9 605.2,774.1 608.3,819.3 612,826.7 616.6,831.7 623.1,831.7 626.7,852.5 630.4,872.8 634.1,881.6 637.8,882 641.5,889 644.8,868.2 648.3,873.7 652.6,872.4 656.2,870.6 659.9,866.3 663.6,865.4 666.8,832.2 670.1,799.4 673.8,809.2 677.5,821.5 681.1,812.8 685.2,809.7 688.9,828.1 692.2,826.7 695.9,797.2 699.6,793.1 703.3,799 707,801.8 710.6,791.6 714,833.1 717.1,789.4 720.8,788.3 724.5,794.4 728.2,807.9 731.9,815.2 735.5,813.8 739.2,808.2 742.9,792.6 747.2,788.9 750.3,799 754,783.9 757.7,794.4 761.4,782.4 765,783.9 768.7,779.6 772.4,782.4 776.1,790.7 779.8,779.1 783.5,787.9 787.2,783.3 790.9,782.8 794.6,780.2 798.2,792.6 801.9,815.6 805.6,842.3 809.3,851.6 813,844.2 816.7,835.9 819.8,831.3 823.5,842.3 827.2,859.9 831.4,859.9 835.1,852.5 838.8,846.6 842.5,845.1 846.2,834.1 849.3,821.5 853,819.3 856.3,816.5 860,823.9 863.7,846 867.4,852.1 870.7,822.1 873.9,823.9 878.1,835 881.8,823.9 885.5,815.6 889.2,826.7 892.8,837.7 896.5,843.3 900.2,843.3 903.7,851.1 907.4,858.5 911.1,837.2 914.8,817.3 918.4,831.7 922.1,840 925.8,835 929.5,840 932.8,829.9 936.5,821.6 940.2,817 943.9,816.6 947.6,825.3 951.3,817.3 955,815.1 958.1,780.1 961.8,774.5 965.5,771.8 969.2,768.6 973.4,768.6 976.5,808.7 980.2,833.2 983.9,833.2 987.6,828.9 990.7,824.7 994.4,841.9 998.7,845.5 1002.3,847.4 1006,854.8 1009.7,863.1 1013.4,867.7 1017.1,867.7 1020.2,833.9 1023.9,843.7 1027.2,829.5 1031.3,828.9 1035,822.9 1038.7,827.7 1042.4,825.8 1046.1,825.8 1049.7,836.3 1053.4,838.2 1057.1,837.6 1060.4,824.3 1064.1,816 1067.8,803.1 1071.5,796.3 1075.2,805 1078.5,812.3 1082.2,784.7 1085.9,822.1 1089.6,815.5 1092.7,815.5 1097,824 1100.6,824 1103.8,821.6 1108,843.7 1112.1,837.2 1114.8,813.3 1118.5,789.3 1122.2,796.3 1125.9,795.2 1129.6,786.5 1133.3,786.2 1137,786.5 1140.7,795.2 1144.3,784.7 1148,781.6 1151.2,739.5 1155.4,729.4 1159.1,737.7 1162.8,741.4 1166.5,738.6 1169.6,735.4 1173.3,745 1177,756.1 1180.7,778.2 1184.4,781 1188.1,784.7 1190,790.2 1191.8,804.4 1195.5,806.3 1198.9,822.9 1202.5,809.6 1206.2,815.1 1209.9,822.5 1213.1,836.3 1217.3,826.5 1220.4,811.8 1224.1,816 1228.4,813.6 1232,819.7 1235.2,806.8 1238.9,822.9 1243.1,828 1246.2,848.7 1249.9,846.8 1253.6,846.8 1257.3,850.5 1261,846.1 1264.7,848.7 1268.4,847.4 1271.5,833.9 1275.2,836.9 1278.9,825.3 1282.6,822.9 1285.9,806.3 1290,800.4 1293.6,804.1 1297.3,807.7 1300.6,783.8 1304,747.8 1308,728.8 1311.7,728.4 1315.4,737.7 1319.5,738 1323.1,757 1326.8,770.9 1330.2,781 1333.8,787.5 1337.5,794.8 1341.2,800 1344.9,796.7 1348.2,780.4 1351.4,789.3 1355,797.6 1358.7,797.6 1362.4,797.6 1366.7,800.7 1370.4,793.9 1374,783.8 1377.2,773.6 1380.9,770.9 1384.6,765.3 1388.2,754.3 1391.9,783.8 1395.6,774.2 1399.3,771.8 1403,766.2 1406.7,763.1 1410.4,759.4 1414.1,756.1 1417.8,755.2 1421.4,762.6 1424.6,768.1 1428.3,778.2 1432,779.7" fill="none" stroke="#4a2c15" stroke-width="1.45" stroke-linejoin="round"/>
<polyline points="0,812.3 6.5,813.8 11.1,822.1 14.8,830 20.3,827.6 27.7,825.8 33.2,826.7 40.6,839.6 47.9,850.6 52.6,854.7 64.5,854.7 73.8,852.9 81.1,850.3 88.5,846 95.9,839.6 102.3,841.1 108.8,834.1 114.3,829.4 119.9,826.7 127.2,813.8 134.6,802.7 138.7,798.1 145.7,799 151.2,803.6 160.4,808.6 167.4,809.2 173.3,821.1 178.9,828.5 184.4,830.7 193.6,829.4 203.8,829.4 207.8,836.8 213.9,838.7 221.3,841.8 225.9,842.9 233.3,844.2 239.7,851.6 247.1,858 255.4,866 261.9,867.2 269.2,863.9 276.6,862.1 284,863.9 287.7,861.7 295.1,847 300,841.1 303.7,836.8 309.2,835.5 313.3,833.7 317.5,838.7 322.1,841.4 327.7,840.5 335,837.7 342.4,837.4 349.8,834.1 359.9,829.4 364.5,837.7 370.1,848.8 374.7,855.3 382.1,854.3 388.5,858 395,860.8 401.4,859.9 407.9,861.3 414.3,858.9 419.9,858.6 426.3,859.9 430.9,854.3 438.3,850.3 444.8,847 448.5,848.8 452.1,848.8 455.8,842.3 462.3,848.8 467.8,852.5 473.3,858.4 481.6,858.9 488.1,860.8 495.5,865.4 502.9,869.6 509.3,870 517.6,873.7 525,877.4 532.4,880.5 539.7,882.9 545.3,886.6 550.8,891.2 558.2,893.4 566.5,895.3 572,892.7 575.7,890.3 580.3,882 584.9,869.1 591.4,854.3 598.7,835.9 600,833.1 606.5,819.7 611.1,820.2 617.5,823.4 624,826.7 629.5,837.7 636,850.6 641.5,860.2 647,862.6 653.5,866 663.6,866 667.3,858.9 671,848.8 675.6,841.1 681.1,834.1 686.7,828.5 692.2,828.5 697.7,820.2 703.3,813.8 710.6,808.6 714.3,812.3 719.9,806.4 725.4,803.1 732.8,806.4 738.3,806.8 745.7,802.7 753.1,799 758.6,796.8 769.7,789.8 775.2,789.4 782.6,787 788.1,786.5 794.6,785.2 799.2,788.3 804.7,799.9 812.1,814.7 817.6,820.2 823.1,824.8 828.7,834.1 834.2,839.6 839.7,841.1 845.3,841.1 850.8,835.9 857.3,830.4 861.9,831.3 867.4,835.9 872.9,833.1 880.3,831.8 886.8,828.1 893.2,830.4 898.7,833.7 900,835 903.7,838.2 908.3,841.3 914.8,835.8 922.1,835.8 931.4,836.3 938.7,830.8 946.1,827.7 954.4,824 959,815.1 966.4,800.4 973.8,790.8 979.3,800.7 985.8,809.6 991.3,814.2 997.7,822.9 1004.2,830.8 1010.6,840 1016.2,847.9 1025.4,844.6 1032.8,839.1 1040.2,834.5 1045.7,832.6 1051.2,833.6 1056.8,834.5 1064.1,829.9 1071.5,820.6 1077,816.6 1082.2,811.1 1086.3,812.9 1092.7,812.9 1098.2,815.5 1103.8,817.9 1108.4,822.9 1112.1,825.3 1118.5,817 1125.9,809.6 1133.3,801.3 1139.7,798.1 1147.1,794.5 1151.7,783.8 1157.3,769.9 1163.7,759.8 1170.2,753.9 1175.7,752.8 1182.2,758.9 1187.7,766.2 1190,769 1194.6,778.2 1199.2,787.1 1206.6,796.3 1213.1,806.3 1217.7,810.5 1226.9,811.4 1234.3,812.9 1242.6,816 1247.2,822.5 1254.5,830.8 1261.9,837.2 1266.5,839.6 1273,839.1 1278.5,836.9 1284.1,831.7 1289.6,824.7 1294.2,819.7 1297.9,817.9 1302.5,807.7 1308,787.5 1313.6,771.8 1319.1,763.8 1326.5,763.5 1332,769 1339.4,778.2 1344.9,781.9 1350.4,782.8 1357.8,787.5 1365.2,790.8 1369.8,792.4 1374.4,790.2 1381.8,783.8 1388.2,776.4 1392.9,777.9 1398.4,776.8 1405.8,773.1 1413.1,769 1419.6,765.3 1424.2,765.7 1428.8,768.1 1432,770.5" fill="none" stroke="#ff8c10" stroke-width="1.75" stroke-linejoin="round" stroke-linecap="round"/>
<rect x="0" y="958.9" width="1681" height="1" fill="#1a1a1a"/>
<path d="M0.3 959.4V963.6M116.9 959.4V963.6M233.5 959.4V963.6M350.1 959.4V963.6M466.7 959.4V963.6M583.2 959.4V963.6M699.8 959.4V963.6M816.4 959.4V963.6M933 959.4V963.6M1049.6 959.4V963.6M1166.1 959.4V963.6M1282.7 959.4V963.6M1399.3 959.4V963.6" stroke="#222" stroke-width="1"/>
<text x="-0.17" y="974" font-size="10.4" fill="#1c1c1c" textLength="65.67" lengthAdjust="spacingAndGlyphs">22 Aug 2023</text>
<text x="115.12" y="974" font-size="10.4" fill="#1c1c1c" textLength="69.78" lengthAdjust="spacingAndGlyphs">30 Aug 04:00</text>
<text x="232.47" y="974" font-size="10.4" fill="#1c1c1c" textLength="62.45" lengthAdjust="spacingAndGlyphs">6 Sep 12:00</text>
<text x="349.4" y="974" font-size="10.4" fill="#1c1c1c" textLength="67.5" lengthAdjust="spacingAndGlyphs">13 Sep 20:00</text>
<text x="465.76" y="974" font-size="10.4" fill="#1c1c1c" textLength="68.15" lengthAdjust="spacingAndGlyphs">21 Sep 04:00</text>
<text x="582.04" y="974" font-size="10.4" fill="#1c1c1c" textLength="68.46" lengthAdjust="spacingAndGlyphs">28 Sep 12:00</text>
<text x="698.65" y="974" font-size="10.4" fill="#1c1c1c" textLength="61.85" lengthAdjust="spacingAndGlyphs">5 Oct 20:00</text>
<text x="815.72" y="974" font-size="10.4" fill="#1c1c1c" textLength="66.99" lengthAdjust="spacingAndGlyphs">13 Oct 04:00</text>
<text x="931.86" y="974" font-size="10.4" fill="#1c1c1c" textLength="67.44" lengthAdjust="spacingAndGlyphs">20 Oct 12:00</text>
<text x="1048.58" y="974" font-size="10.4" fill="#1c1c1c" textLength="67.92" lengthAdjust="spacingAndGlyphs">27 Oct 20:00</text>
<text x="1165.45" y="974" font-size="10.4" fill="#1c1c1c" textLength="61.85" lengthAdjust="spacingAndGlyphs">6 Nov 04:00</text>
<text x="1281.33" y="974" font-size="10.4" fill="#1c1c1c" textLength="69.18" lengthAdjust="spacingAndGlyphs">13 Nov 12:00</text>
<text x="1397.92" y="974" font-size="10.4" fill="#1c1c1c" textLength="68.78" lengthAdjust="spacingAndGlyphs">20 Nov 20:00</text>
<rect x="0" y="0" width="1.1" height="963.7" fill="#111"/>
</svg></body></html>
